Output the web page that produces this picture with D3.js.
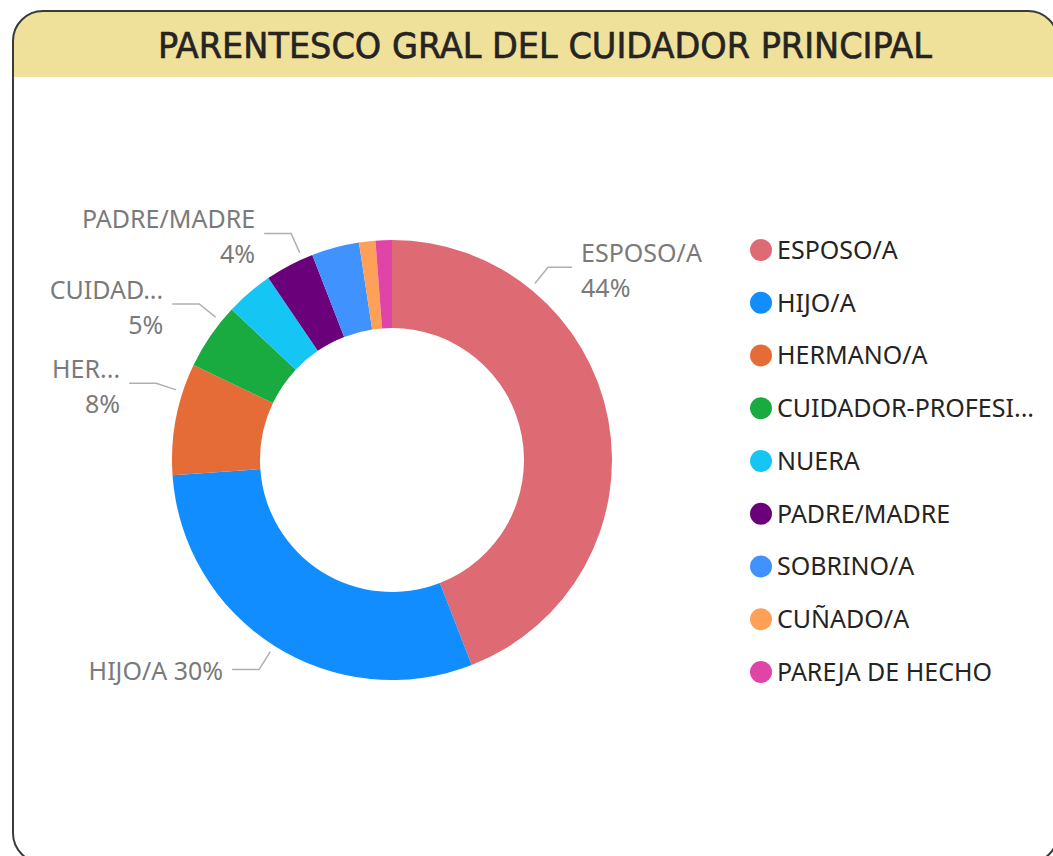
<!DOCTYPE html>
<meta charset="utf-8">
<style>
body { margin: 0; background: #fff; }
svg text { font-family: "Segoe UI", "Noto Sans", sans-serif; }
.title { font-family: "DejaVu Sans Condensed", "DejaVu Sans", sans-serif !important; }
</style>
<svg width="1053" height="856"></svg>
<script src="https://cdn.jsdelivr.net/npm/d3@7/dist/d3.min.js"></script>
<script>
// data
var categories = ["ESPOSO/A", "HIJO/A", "HERMANO/A", "CUIDADOR-PROFESIONAL", "NUERA",
                  "PADRE/MADRE", "SOBRINO/A", "CUÑADO/A", "PAREJA DE HECHO"];
var values = [44.1, 29.8, 8.2, 4.9, 3.5, 3.6, 3.5, 1.2, 1.2];
var colors = ["#DE6A73", "#118DFF", "#E66C37", "#1AAB40", "#15C6F4",
              "#6B007B", "#4092FF", "#FFA058", "#E044A7"];
var legendNames = ["ESPOSO/A", "HIJO/A", "HERMANO/A", "CUIDADOR-PROFESI...", "NUERA",
                   "PADRE/MADRE", "SOBRINO/A", "CUÑADO/A", "PAREJA DE HECHO"];
var labelNames = ["ESPOSO/A", "HIJO/A", "HER...", "CUIDAD...", null, "PADRE/MADRE", null, null, null];

// layout
var cx = 392, cy = 460, rOuter = 220, rInner = 132;
// where the leader lines leave the ring (degrees from top), when not mid-slice
var labelAngle = { 0: 39, 2: 288, 3: 309, 5: 336 };

var svg = d3.select("svg"),
    width = +svg.attr("width"),
    height = +svg.attr("height");

var data = categories.map(function(c, i) {
  return { name: c, value: values[i], color: colors[i], legend: legendNames[i], label: labelNames[i], i: i };
});
var total = d3.sum(values);
var pct = d3.format(".0%");

// card
svg.append("clipPath").attr("id", "card")
  .append("rect").attr("x", 13).attr("y", 11).attr("width", 1045).attr("height", 852).attr("rx", 30);
svg.append("rect").attr("clip-path", "url(#card)")
  .attr("x", 0).attr("y", 0).attr("width", width).attr("height", 77).attr("fill", "#EFE09A");
svg.append("rect").attr("x", 13).attr("y", 11).attr("width", 1045).attr("height", 852).attr("rx", 30)
  .attr("fill", "none").attr("stroke", "#3a3a3a").attr("stroke-width", 2);
svg.append("text").attr("class", "title")
  .attr("x", 545).attr("y", 46).attr("dy", "0.35em")
  .attr("text-anchor", "middle")
  .attr("font-size", 35).attr("fill", "#252423")
  .attr("stroke", "#252423").attr("stroke-width", 0.6)
  .attr("textLength", 774).attr("lengthAdjust", "spacingAndGlyphs")
  .text("PARENTESCO GRAL DEL CUIDADOR PRINCIPAL");

// donut
var pie = d3.pie().sort(null).value(function(d) { return d.value; });
var arc = d3.arc().innerRadius(rInner).outerRadius(rOuter);
var arcs = pie(data);

var g = svg.append("g").attr("transform", "translate(" + cx + "," + cy + ")");
g.selectAll("path").data(arcs).enter().append("path")
  .attr("d", arc)
  .attr("fill", function(d) { return d.data.color; });

// labels
function pt(a, r) { return [r * Math.sin(a), -r * Math.cos(a)]; }
var labeled = arcs.filter(function(d) { return d.data.label; });
labeled.forEach(function(d) {
  var a = labelAngle[d.data.i] != null ? labelAngle[d.data.i] * Math.PI / 180 : (d.startAngle + d.endAngle) / 2;
  var p0 = pt(a, rOuter + 7), p1 = pt(a, rOuter + 28);
  var right = Math.sin(a) > 0;
  var p2 = [p1[0] + (right ? 24 : -27), p1[1]];
  g.append("polyline")
    .attr("points", [p0, p1, p2].map(function(p) { return p.join(","); }).join(" "))
    .attr("fill", "none").attr("stroke", "#b0b0b0").attr("stroke-width", 1.5);
  var tx = p2[0] + (right ? 9 : -9);
  var anchor = right ? "start" : "end";
  var p = pct(d.data.value / total);
  if (d.data.i === 1) {
    g.append("text").attr("x", tx).attr("y", p2[1] + 2).attr("dy", "0.35em")
      .attr("text-anchor", anchor).attr("font-size", 25).attr("fill", "#7a7a7a")
      .text(d.data.label + " " + p);
  } else {
    g.append("text").attr("x", tx).attr("y", p1[1] - 14).attr("dy", "0.35em")
      .attr("text-anchor", anchor).attr("font-size", 25).attr("fill", "#7a7a7a")
      .text(d.data.label);
    g.append("text").attr("x", tx).attr("y", p1[1] + 21).attr("dy", "0.35em")
      .attr("text-anchor", anchor).attr("font-size", 25).attr("fill", "#7a7a7a")
      .text(p);
  }
});

// legend
var ly = d3.scalePoint().domain(categories).range([250, 672]);
var legend = svg.append("g").selectAll("g").data(data).enter().append("g")
  .attr("transform", function(d) { return "translate(761," + ly(d.name) + ")"; });
legend.append("circle").attr("r", 11).attr("fill", function(d) { return d.color; });
legend.append("text").attr("x", 16).attr("dy", "0.35em")
  .attr("font-size", 25).attr("fill", "#252423")
  .text(function(d) { return d.legend; });
</script>
